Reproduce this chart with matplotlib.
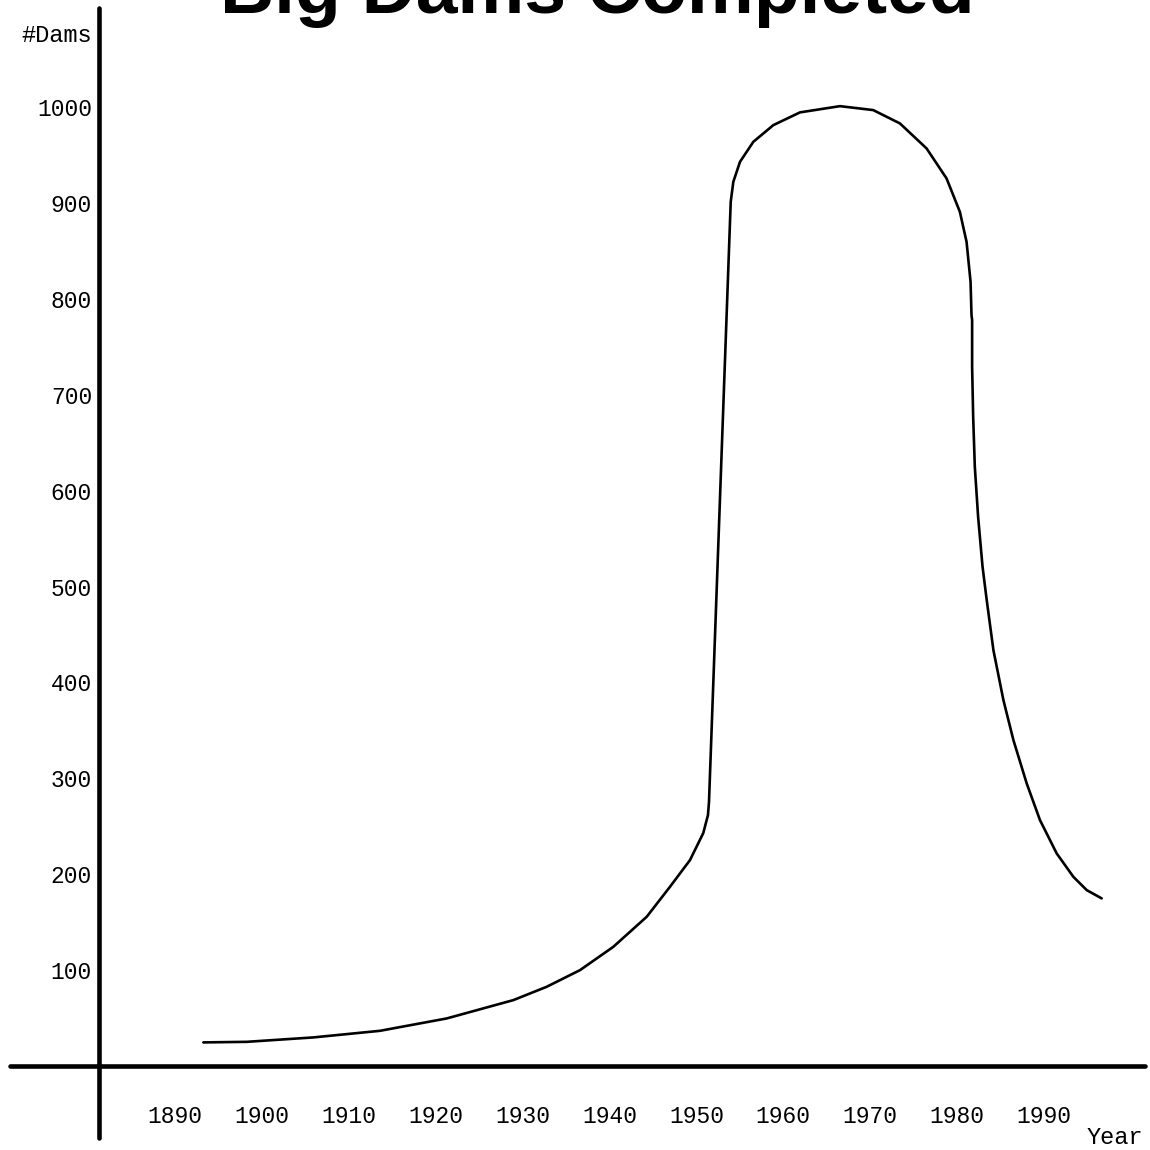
import matplotlib
matplotlib.use("Agg")
import matplotlib.pyplot as plt

# ---- data ----
years = [1893.26, 1898.25, 1905.91, 1913.59, 1921.27, 1928.93, 1932.77, 1936.61,
         1940.44, 1944.28, 1946.96, 1949.26, 1950.79, 1951.33, 1951.45,
         1953.95, 1954.25, 1955.02, 1956.55, 1958.85, 1961.92, 1966.52, 1970.35,
         1973.42, 1976.49, 1978.79, 1980.32, 1981.09, 1981.55, 1981.66,
         1981.73, 1981.73, 1981.85, 1982.04, 1982.42, 1982.93, 1983.41, 1984.18,
         1985.33, 1986.48, 1988.01, 1989.54, 1991.46, 1993.38, 1994.92, 1996.64]
dams = [24.6, 25.2, 29.8, 36.7, 49.6, 68.7, 82.6, 100.0,
        124.3, 155.6, 186.9, 214.7, 242.9, 261.6, 275.5,
        901.2, 922.1, 943.0, 963.8, 981.2, 994.5, 1001.0, 996.9,
        983.0, 956.9, 925.6, 890.8, 859.5, 817.8, 783.1,
        777.9, 729.2, 677.0, 624.9, 572.7, 520.6, 485.9, 433.7,
        381.6, 339.9, 294.7, 256.4, 221.7, 197.3, 183.4, 174.8]
x_ticks = [1890, 1900, 1910, 1920, 1930, 1940, 1950, 1960, 1970, 1980, 1990]
y_ticks = [100, 200, 300, 400, 500, 600, 700, 800, 900, 1000]
title = "Big Dams Completed"
x_label = "Year"
y_label = "#Dams"

mono = ["Liberation Mono", "DejaVu Sans Mono"]

fig = plt.figure(figsize=(11.5, 11.5), dpi=100)
ax = fig.add_axes([0, 0, 1, 1])
ax.set_xlim(1869.86, 2002.20)
ax.set_ylim(-87.6, 1111.7)

ax.plot(years, dams, color="black", lw=1.9, solid_capstyle="round",
        solid_joinstyle="round")

# axis lines through spines
for s in ("top", "right"):
    ax.spines[s].set_visible(False)
ax.spines["left"].set_position(("data", 1881.25))
ax.spines["bottom"].set_position(("data", 0))
ax.spines["left"].set_bounds(-75.1, 1103.3)
ax.spines["bottom"].set_bounds(1871.0, 2001.6)
for s in ("left", "bottom"):
    ax.spines[s].set_linewidth(3.3)
    ax.spines[s].set_color("black")
    ax.spines[s].set_capstyle("round")

ax.set_xticks(x_ticks)
ax.set_xticklabels([str(v) for v in x_ticks], family=mono, fontsize=16.5)
ax.set_yticks(y_ticks)
ax.set_yticklabels([str(v) for v in y_ticks], family=mono, fontsize=16.5)
ax.tick_params(axis="both", length=0)
ax.tick_params(axis="y", pad=5)
ax.tick_params(axis="x", pad=28)

fig.text(92 / 1150, 1 - 36 / 1150, y_label, family=mono, fontsize=17,
         ha="right", va="center")
fig.text(1143 / 1150, 1 - 1137 / 1150, x_label, family=mono, fontsize=17,
         ha="right", va="center")
fig.text(597 / 1150, 1 - 13 / 1150, title, family=["Liberation Sans", "DejaVu Sans"],
         fontsize=54, fontweight="bold", ha="center", va="baseline")

fig.savefig("out.png", dpi=100, facecolor="white")
